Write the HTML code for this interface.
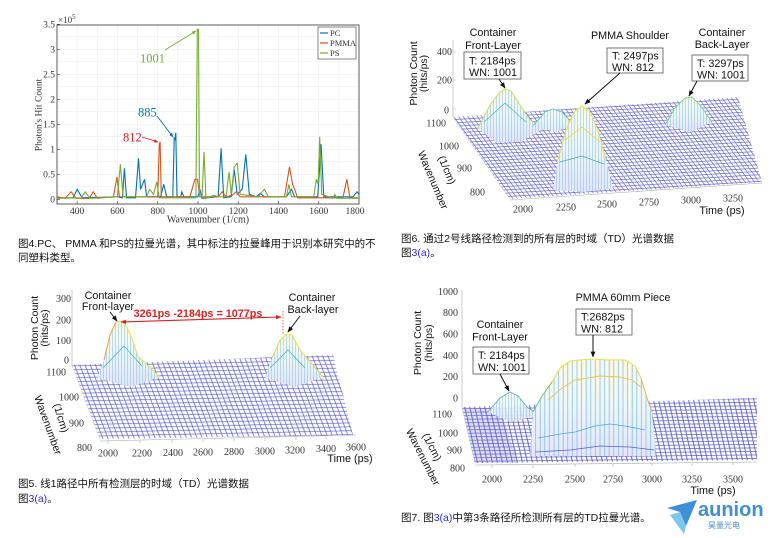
<!DOCTYPE html>
<html><head><meta charset="utf-8"><style>
html,body{margin:0;padding:0;background:#fff;}
svg{display:block;}
.s{font-family:"Liberation Serif",serif;fill:#333;}
.a{font-family:"Liberation Sans",sans-serif;fill:#111;}
.c{font-family:"Liberation Sans","Noto Sans CJK SC",sans-serif;fill:#111;font-size:10.5px;}
</style></head><body>
<svg width="774" height="538" viewBox="0 0 774 538" xmlns="http://www.w3.org/2000/svg">
<defs>
<marker id="ah" viewBox="0 0 10 10" refX="9" refY="5" markerWidth="6" markerHeight="6" orient="auto"><path d="M0 1L10 5L0 9z" fill="#111"/></marker>
<marker id="rh" viewBox="0 0 10 10" refX="9" refY="5" markerWidth="5" markerHeight="5" orient="auto-start-reverse"><path d="M0 1L10 5L0 9z" fill="#e02020"/></marker>
<marker id="gh" viewBox="0 0 10 10" refX="9" refY="5" markerWidth="5" markerHeight="5" orient="auto"><path d="M0 1L10 5L0 9z" fill="#77ac30"/></marker>
<marker id="bh" viewBox="0 0 10 10" refX="9" refY="5" markerWidth="5" markerHeight="5" orient="auto"><path d="M0 1L10 5L0 9z" fill="#0072bd"/></marker>
<marker id="oh" viewBox="0 0 10 10" refX="9" refY="5" markerWidth="5" markerHeight="5" orient="auto"><path d="M0 1L10 5L0 9z" fill="#e02020"/></marker>
<pattern id="m2" patternUnits="userSpaceOnUse" width="1" height="1" patternTransform="matrix(4.5 -0.27 -2.3 -3.2 510 198)"><path d="M0 .5H1M.5 0V1" stroke="#5a5ad8" stroke-width="0.16" fill="none"/></pattern>
<pattern id="m3" patternUnits="userSpaceOnUse" width="1" height="1" patternTransform="matrix(5.2 -0.11 -1.5 -3.9 100 438)"><path d="M0 .5H1M.5 0V1" stroke="#5a5ad8" stroke-width="0.15" fill="none"/></pattern>
<pattern id="m4" patternUnits="userSpaceOnUse" width="1" height="1" patternTransform="matrix(5 -0.05 -0.8 -3.5 475 463)"><path d="M0 .5H1M.5 0V1" stroke="#5252d4" stroke-width="0.18" fill="none"/></pattern>
<pattern id="vl3" patternUnits="userSpaceOnUse" width="3" height="10"><path d="M1.5 0V10" stroke="#8cc4ea" stroke-width="0.6"/></pattern>
<pattern id="vl5" patternUnits="userSpaceOnUse" width="4.6" height="10"><path d="M2 0V10" stroke="#7ab4ea" stroke-width="0.7"/></pattern>
<linearGradient id="pg" x1="0" y1="0" x2="0" y2="1"><stop offset="0" stop-color="#fcfae0"/><stop offset=".45" stop-color="#eef7f8"/><stop offset="1" stop-color="#e4e6f8"/></linearGradient>
</defs>

<!-- ================= PANEL 1 ================= -->
<g stroke="#e8e8e8" stroke-width="0.5">
<path d="M77.1 25V204M97.2 25V204M117.4 25V204M137.5 25V204M157.7 25V204M177.8 25V204M198 25V204M218.1 25V204M238.2 25V204M258.4 25V204M278.5 25V204M298.6 25V204M318.8 25V204M338.9 25V204"/>
<path d="M57 186.8H359M57 174.3H359M57 161.8H359M57 149.3H359M57 136.8H359M57 124.3H359M57 111.8H359M57 99.3H359M57 86.8H359M57 74.3H359M57 61.8H359M57 49.3H359M57 36.8H359"/>
</g>
<rect x="57" y="25" width="302" height="179" fill="none" stroke="#333" stroke-width="0.8"/>
<g stroke="#333" stroke-width="0.6">
<path d="M77.1 204v-3M117.4 204v-3M157.7 204v-3M198 204v-3M238.2 204v-3M278.5 204v-3M318.8 204v-3"/>
<path d="M57 199.3h3M57 174.3h3M57 149.3h3M57 124.3h3M57 99.3h3M57 74.3h3M57 49.3h3M57 24.3h3"/>
</g>
<polyline fill="none" stroke="#0072bd" stroke-width="1.1" points="57,197.8 73.1,197.8 77.1,189.3 82.2,197.8 117.4,196.8 122.4,197.8 124.4,168.3 126.5,197.8 135.5,197.8 138.5,158.3 140.6,189.3 144.6,179.3 146.6,196.8 160.7,196.8 163.7,184.3 166.7,196.8 172.8,196.8 174.2,138.3 175,139.3 175.8,132.8 177,196.8 180.8,196.8 181.8,191.8 183.8,196.8 197.9,196.8 199.9,189.3 202,198.3 218.1,196.8 221.1,148.3 223.7,197.8 231.2,196.8 234.2,169.3 237.2,194.3 242.2,189.3 245.8,154.3 249.3,194.3 256.3,196.8 260.3,193.3 264.4,196.8 286.5,196.8 291.5,189.3 294.6,196.8 317.7,196.8 321.1,144.3 323.8,196.8 353,196.8 357,191.8 359,194.3"/>
<polyline fill="none" stroke="#d95319" stroke-width="1.1" points="57,196.8 65.1,198.3 71.1,191.8 76.1,198.3 89.2,198.3 93.2,191.8 97.3,198.3 113.4,196.8 117,176.8 119.4,196.8 157.7,196.8 159.3,144.3 160.1,141.8 161.3,196.8 189.9,196.8 194.9,179.3 197.5,179.3 199.9,196.8 218.1,196.8 222.1,191.8 226.1,196.8 232.2,195.3 236.2,191.8 240.2,196.8 284.5,196.8 289.5,166.8 292.6,184.3 294.6,189.3 297.6,197.8 342.9,197.8 346.9,179.3 349.9,197.8 359,197.8"/>
<polyline fill="none" stroke="#77ac30" stroke-width="1.1" points="57,198.3 81.2,197.8 85.2,191.8 90.2,198.3 117.4,196.8 120.4,164.3 123,196.8 146.6,196.8 149.6,189.3 153.6,194.3 156.7,181.8 159.3,197.8 195.9,197.8 197.3,29.3 198.5,29.3 199.5,196.8 202,196.8 204,151.8 206,198.3 214,195.3 218.1,196.8 226.1,196.8 229.1,171.8 231.2,194.3 234.2,166.8 237.2,163.3 240.2,194.3 258.3,196.8 264.4,189.3 268.4,196.8 286.5,196.8 288.9,184.3 291.5,196.8 313.7,196.8 316.3,179.3 318.1,184.3 319.7,136.8 321.7,194.3 332.8,198.3 334.8,194.3 336.8,198.3 359,198.3"/>
<line x1="165" y1="50" x2="196" y2="31" stroke="#77ac30" stroke-width="0.9" marker-end="url(#gh)"/>
<text x="140" y="62.5" class="s" font-size="12.5" style="fill:#77ac30">1001</text>
<line x1="157" y1="116" x2="173" y2="137" stroke="#0072bd" stroke-width="0.9" marker-end="url(#bh)"/>
<text x="138" y="116.5" class="s" font-size="12.5" style="fill:#0072bd">885</text>
<line x1="142" y1="137" x2="158" y2="142" stroke="#e02020" stroke-width="0.9" marker-end="url(#oh)"/>
<text x="123" y="141.5" class="s" font-size="12.5" style="fill:#e02020">812</text>
<rect x="318" y="27" width="38" height="32" fill="#fff" stroke="#333" stroke-width="0.6"/>
<line x1="320" y1="33" x2="328" y2="33" stroke="#0072bd" stroke-width="1.2"/>
<line x1="320" y1="43" x2="328" y2="43" stroke="#d95319" stroke-width="1.2"/>
<line x1="320" y1="53" x2="328" y2="53" stroke="#77ac30" stroke-width="1.2"/>
<g class="s" font-size="8.5"><text x="330" y="36">PC</text><text x="330" y="46">PMMA</text><text x="330" y="56">PS</text></g>
<g class="s" font-size="9.5" text-anchor="end">
<text x="55" y="202.5">0</text><text x="55" y="177.5">0.5</text><text x="55" y="152.5">1</text><text x="55" y="127.5">1.5</text><text x="55" y="102.5">2</text><text x="55" y="77.5">2.5</text><text x="55" y="52.5">3</text><text x="55" y="27.5">3.5</text>
</g>
<text x="58" y="23" class="s" font-size="9">×10<tspan font-size="7" dy="-4">5</tspan></text>
<g class="s" font-size="9.5" text-anchor="middle">
<text x="77.1" y="214">400</text><text x="117.4" y="214">600</text><text x="157.7" y="214">800</text><text x="198" y="214">1000</text><text x="238.2" y="214">1200</text><text x="278.5" y="214">1400</text><text x="318.8" y="214">1600</text><text x="355" y="214">1800</text>
</g>
<text x="208" y="222.5" class="s" font-size="10" text-anchor="middle">Wavenumber (1/cm)</text>
<text transform="translate(41.5 115) rotate(-90)" class="s" font-size="9.5" text-anchor="middle">Photon's Hit Count</text>
<text x="18" y="247" class="c">图4.PC、 PMMA 和PS的拉曼光谱，其中标注的拉曼峰用于识别本研究中的不</text>
<text x="18" y="261" class="c">同塑料类型。</text>

<!-- ================= PANEL 2 ================= -->
<g stroke="#aaa" stroke-width="0.6" fill="none">
<path d="M453 40V117"/><path d="M453 117L510 199"/><path d="M510 200L762 183"/>
<path d="M453 52h3M453 80h3M453 109h3"/>
</g>
<polygon points="453,117 738,97 762,182 510,199" fill="#fff"/>
<polygon points="453,117 738,97 762,182 510,199" fill="url(#m2)"/>
<polygon points="478,128 490,105 500,92 505,89 511,91 520,105 530,120 545,128 520,142 495,142" fill="url(#pg)"/>
<polygon points="478,128 490,105 500,92 505,89 511,91 520,105 530,120 545,128 520,142 495,142" fill="url(#vl3)"/>
<polyline points="478,128 490,105 500,92 505,89 511,91 520,105 530,120 545,128" fill="none" stroke="#c8dc50" stroke-width="0.9"/>
<polyline points="484,122 505,103 526,122" fill="none" stroke="#44b4c0" stroke-width="0.7"/>
<polygon points="533,126 545,112 553,109 562,112 574,125 555,132" fill="url(#pg)"/>
<polygon points="533,126 545,112 553,109 562,112 574,125 555,132" fill="url(#vl3)"/>
<polyline points="533,126 545,112 553,109 562,112 574,125" fill="none" stroke="#50c4b4" stroke-width="0.8"/>
<polygon points="553,190 558,160 566,130 574,112 582,106 590,112 598,130 606,160 613,188 585,192" fill="url(#pg)"/>
<polygon points="553,190 558,160 566,130 574,112 582,106 590,112 598,130 606,160 613,188 585,192" fill="url(#vl3)"/>
<polyline points="558,160 566,130 574,112 582,106 590,112 598,130 606,160" fill="none" stroke="#e8e040" stroke-width="1"/>
<polyline points="565,140 582,127 600,142" fill="none" stroke="#e0d840" stroke-width="0.8"/>
<polyline points="560,162 582,156 604,164" fill="none" stroke="#3cb0b8" stroke-width="0.7"/>
<polygon points="665,125 675,108 685,98 692,97 700,105 712,122 690,132" fill="url(#pg)"/>
<polygon points="665,125 675,108 685,98 692,97 700,105 712,122 690,132" fill="url(#vl3)"/>
<polyline points="665,125 675,108 685,98 692,97 700,105 712,122" fill="none" stroke="#7cd080" stroke-width="0.9"/>
<g class="a" font-size="10.8" text-anchor="middle">
<text x="493" y="36">Container</text><text x="493" y="49">Front-Layer</text>
<text x="630" y="39">PMMA Shoulder</text>
<text x="722" y="36">Container</text><text x="722" y="48">Back-Layer</text>
</g>
<rect x="464" y="52" width="57" height="27" fill="#fff" stroke="#555" stroke-width="0.8"/>
<rect x="607" y="48" width="56" height="25" fill="#fff" stroke="#555" stroke-width="0.8"/>
<rect x="692" y="55" width="56" height="26" fill="#fff" stroke="#555" stroke-width="0.8"/>
<g class="a" font-size="10.8">
<text x="469" y="64.5">T: 2184ps</text><text x="469" y="76">WN: 1001</text>
<text x="612" y="59.5">T: 2497ps</text><text x="612" y="71">WN: 812</text>
<text x="697" y="67">T: 3297ps</text><text x="697" y="78.5">WN: 1001</text>
</g>
<g stroke="#111" stroke-width="1" fill="none">
<line x1="499" y1="79" x2="505" y2="88" marker-end="url(#ah)"/>
<line x1="620" y1="73" x2="585" y2="104" marker-end="url(#ah)"/>
<line x1="697" y1="81" x2="689" y2="96" marker-end="url(#ah)"/>
</g>
<g class="s" font-size="10" text-anchor="end">
<text x="452" y="55">400</text><text x="452" y="83.5">200</text><text x="449" y="113.5">0</text>
<text x="446" y="126.5">1100</text><text x="459" y="149.5">1000</text><text x="472" y="171.5">900</text><text x="485" y="195.5">800</text>
</g>
<g class="s" font-size="10" text-anchor="middle">
<text x="523" y="212.5">2000</text><text x="566" y="210.5">2250</text><text x="607" y="207.5">2500</text><text x="649" y="205.5">2750</text><text x="691" y="203.5">3000</text><text x="733" y="201.5">3250</text>
</g>
<text x="722" y="214" class="a" font-size="10.8" text-anchor="middle">Time (ps)</text>
<text transform="translate(417 73.5) rotate(-90)" class="a" font-size="10.5" text-anchor="middle">Photon Count</text>
<text transform="translate(427 73.5) rotate(-90)" class="a" font-size="10.5" text-anchor="middle">(hits/ps)</text>
<text transform="translate(433 180) rotate(67)" class="a" font-size="10.5" text-anchor="middle" dy="3.5">Wavenumber</text>
<text transform="translate(447 170) rotate(67)" class="a" font-size="10.5" text-anchor="middle" dy="3.5">(1/cm)</text>
<text x="401" y="242" class="c">图6. 通过2号线路径检测到的所有层的时域（TD）光谱数据</text>
<text x="401" y="256" class="c">图<tspan style="fill:#2a2ae6">3(a)</tspan>。</text>

<!-- ================= PANEL 3 ================= -->
<g stroke="#aaa" stroke-width="0.6" fill="none">
<path d="M72 290V365"/><path d="M72 365L100 439"/><path d="M100 441L356 435"/>
<path d="M108 441v3M140 440v3M172 440v3M203 439v3M234 438v3M265 438v3M296 437v3M326 436v3"/>
</g>
<polygon points="72,365 333,355 353,435 100,439" fill="#fff"/>
<polygon points="72,365 333,355 353,435 100,439" fill="url(#m3)"/>
<polygon points="97,378 104,360 110,335 116,322 124,321 131,336 138,356 160,377 130,387" fill="url(#pg)"/>
<polygon points="97,378 104,360 110,335 116,322 124,321 131,336 138,356 160,377 130,387" fill="url(#vl3)"/>
<polyline points="104,360 110,335 116,322" fill="none" stroke="#f0a040" stroke-width="1"/>
<polyline points="116,322 124,321 131,336 138,356 160,377" fill="none" stroke="#eee040" stroke-width="1"/>
<polyline points="103,368 124,346 142,366" fill="none" stroke="#44b4c8" stroke-width="0.8"/>
<polygon points="265,378 272,358 280,340 286,334 292,335 300,350 323,377 295,387" fill="url(#pg)"/>
<polygon points="265,378 272,358 280,340 286,334 292,335 300,350 323,377 295,387" fill="url(#vl3)"/>
<polyline points="272,358 280,340 286,334 292,335 300,350 323,377" fill="none" stroke="#e6de40" stroke-width="1"/>
<polyline points="270,368 288,350 305,368" fill="none" stroke="#44b4c8" stroke-width="0.8"/>
<g class="a" font-size="10.8" text-anchor="middle">
<text x="108" y="299">Container</text><text x="108" y="310">Front-layer</text>
<text x="312" y="301">Container</text><text x="313" y="313">Back-layer</text>
</g>
<line x1="121" y1="322" x2="281" y2="317" stroke="#e02020" stroke-width="1.1" marker-start="url(#rh)" marker-end="url(#rh)"/>
<line x1="283" y1="311" x2="283" y2="334" stroke="#e02020" stroke-width="0.7" stroke-dasharray="1.5,1.5"/>
<text x="198" y="317" class="a" font-size="10.8" font-weight="bold" text-anchor="middle" style="fill:#e02020">3261ps -2184ps = 1077ps</text>
<g stroke="#111" stroke-width="1" fill="none">
<line x1="110" y1="312" x2="117" y2="321" marker-end="url(#ah)"/>
<line x1="300" y1="316" x2="288" y2="332" marker-end="url(#ah)"/>
</g>
<g class="s" font-size="10" text-anchor="end">
<text x="71" y="302">300</text><text x="71" y="323.5">200</text><text x="71" y="344">100</text><text x="69" y="363.5">0</text>
<text x="66" y="375.5">1100</text><text x="79" y="400.5">1000</text><text x="84" y="426.5">900</text><text x="92" y="451">800</text>
</g>
<g class="s" font-size="10" text-anchor="middle">
<text x="108" y="456.5">2000</text><text x="142" y="456.5">2200</text><text x="173" y="456">2400</text><text x="203" y="455.5">2600</text><text x="234" y="455">2800</text><text x="265" y="454.5">3000</text><text x="295" y="453.5">3200</text><text x="326" y="452">3400</text><text x="356" y="450.5">3600</text>
</g>
<text x="350" y="462" class="a" font-size="10.8" text-anchor="middle">Time (ps)</text>
<text transform="translate(38 328) rotate(-90)" class="a" font-size="10.5" text-anchor="middle">Photon Count</text>
<text transform="translate(48 328) rotate(-90)" class="a" font-size="10.5" text-anchor="middle">(hits/ps)</text>
<text transform="translate(48 425) rotate(70)" class="a" font-size="10.5" text-anchor="middle" dy="3.5">Wavenumber</text>
<text transform="translate(61 418) rotate(73)" class="a" font-size="10.5" text-anchor="middle" dy="3.5">(1/cm)</text>
<text x="18" y="487" class="c">图5. 线1路径中所有检测层的时域（TD）光谱数据</text>
<text x="18" y="502" class="c">图<tspan style="fill:#2a2ae6">3(a)</tspan>。</text>

<!-- ================= PANEL 4 ================= -->
<g stroke="#aaa" stroke-width="0.6" fill="none">
<path d="M462 290V407"/><path d="M462 407L475 463"/><path d="M475 465L757 462"/>
<path d="M492 465v3M533 465v3M575 464v3M613 464v3M652 463v3M692 463v3M733 462v3"/>
</g>
<polygon points="462,407 757,398 757,460 475,463" fill="#fff"/>
<polygon points="462,407 757,398 757,460 475,463" fill="url(#m4)"/>
<polygon points="462,407 500,409 518,463 475,463" fill="#7070d0" opacity="0.22"/>
<polygon points="488,412 500,398 510,392 518,396 528,408 542,415 510,422" fill="url(#pg)" opacity="0.9"/>
<polygon points="488,412 500,398 510,392 518,396 528,408 542,415 510,422" fill="url(#vl3)"/>
<polyline points="488,412 500,398 510,392 518,396 528,408 542,415" fill="none" stroke="#5aa8e0" stroke-width="0.9"/>
<polygon points="530,456 533,412 542,396 552,382 560,368 570,361 590,359 610,360 625,360 635,366 641,378 647,398 652,412 656,456" fill="url(#pg)"/>
<polygon points="530,456 533,412 542,396 552,382 560,368 570,361 590,359 610,360 625,360 635,366 641,378 647,398 652,412 656,456" fill="url(#vl5)"/>
<polyline points="542,396 552,382 560,368 570,361 590,359 610,360 625,360 635,366 641,378" fill="none" stroke="#eedc50" stroke-width="1.1"/>
<polyline points="533,412 542,396 552,382" fill="none" stroke="#6cc070" stroke-width="0.9"/>
<polyline points="641,378 647,398 652,412" fill="none" stroke="#e0b050" stroke-width="0.9"/>
<polyline points="548,400 562,388 575,380 600,376 620,377 632,380 642,388" fill="none" stroke="#e0c850" stroke-width="0.9"/>
<polyline points="538,438 560,434 575,432 595,426 610,424 625,426 645,430" fill="none" stroke="#4aa8e0" stroke-width="0.8"/>
<polyline points="535,452 570,450 600,446 630,447 654,450" fill="none" stroke="#5a5ad8" stroke-width="0.8"/>
<g class="a" font-size="10.8" text-anchor="middle">
<text x="623" y="301">PMMA 60mm Piece</text>
<text x="500" y="328">Container</text><text x="500" y="340.5">Front-Layer</text>
</g>
<rect x="576" y="309" width="56" height="26" fill="#fff" stroke="#555" stroke-width="0.8"/>
<rect x="473" y="347" width="56" height="27" fill="#fff" stroke="#555" stroke-width="0.8"/>
<g class="a" font-size="10.8">
<text x="581" y="320.5">T:2682ps</text><text x="581" y="332.5">WN: 812</text>
<text x="478" y="359">T: 2184ps</text><text x="478" y="371">WN: 1001</text>
</g>
<g stroke="#111" stroke-width="1" fill="none">
<line x1="593" y1="335" x2="593" y2="357" marker-end="url(#ah)"/>
<line x1="500" y1="374" x2="509" y2="391" marker-end="url(#ah)"/>
</g>
<g class="s" font-size="10" text-anchor="end">
<text x="458" y="295">1000</text><text x="458" y="316">800</text><text x="458" y="337.5">600</text><text x="458" y="359">400</text><text x="458" y="380">200</text><text x="458" y="401.5">0</text>
<text x="452" y="417.5">1100</text><text x="458" y="436.5">1000</text><text x="462" y="453.5">900</text><text x="465" y="471.5">800</text>
</g>
<g class="s" font-size="10" text-anchor="middle">
<text x="492" y="482.5">2000</text><text x="533" y="482.5">2250</text><text x="575" y="482.5">2500</text><text x="613" y="482.5">2750</text><text x="652" y="482.5">3000</text><text x="692" y="482.5">3250</text><text x="733" y="482.5">3500</text>
</g>
<text x="713" y="494" class="a" font-size="10.8" text-anchor="middle">Time (ps)</text>
<text transform="translate(421 343) rotate(-90)" class="a" font-size="10.5" text-anchor="middle">Photon Count</text>
<text transform="translate(432 343) rotate(-90)" class="a" font-size="10.5" text-anchor="middle">(hits/ps)</text>
<text transform="translate(423 457) rotate(63)" class="a" font-size="10.5" text-anchor="middle" dy="3.5">Wavenumber</text>
<text transform="translate(432 447) rotate(63)" class="a" font-size="10.5" text-anchor="middle" dy="3.5">(1/cm)</text>
<text x="401" y="521" class="c">图7. 图<tspan style="fill:#2a2ae6">3(a)</tspan>中第3条路径所检测所有层的TD拉曼光谱。</text>

<polygon points="667,508 697,500 686,526 680,512" fill="#3d8fd8"/>
<polygon points="670,515 680,512 686,526 684,534" fill="#7cc8ec"/>
<text x="698" y="516" class="a" font-size="20" font-weight="bold" style="fill:#3d8fd8">aunion</text>
<text x="724" y="528" text-anchor="middle" font-size="8" style="font-family:'Liberation Sans','Noto Sans CJK SC',sans-serif;fill:#4a90d0">昊量光电</text>
</svg>
</body></html>
